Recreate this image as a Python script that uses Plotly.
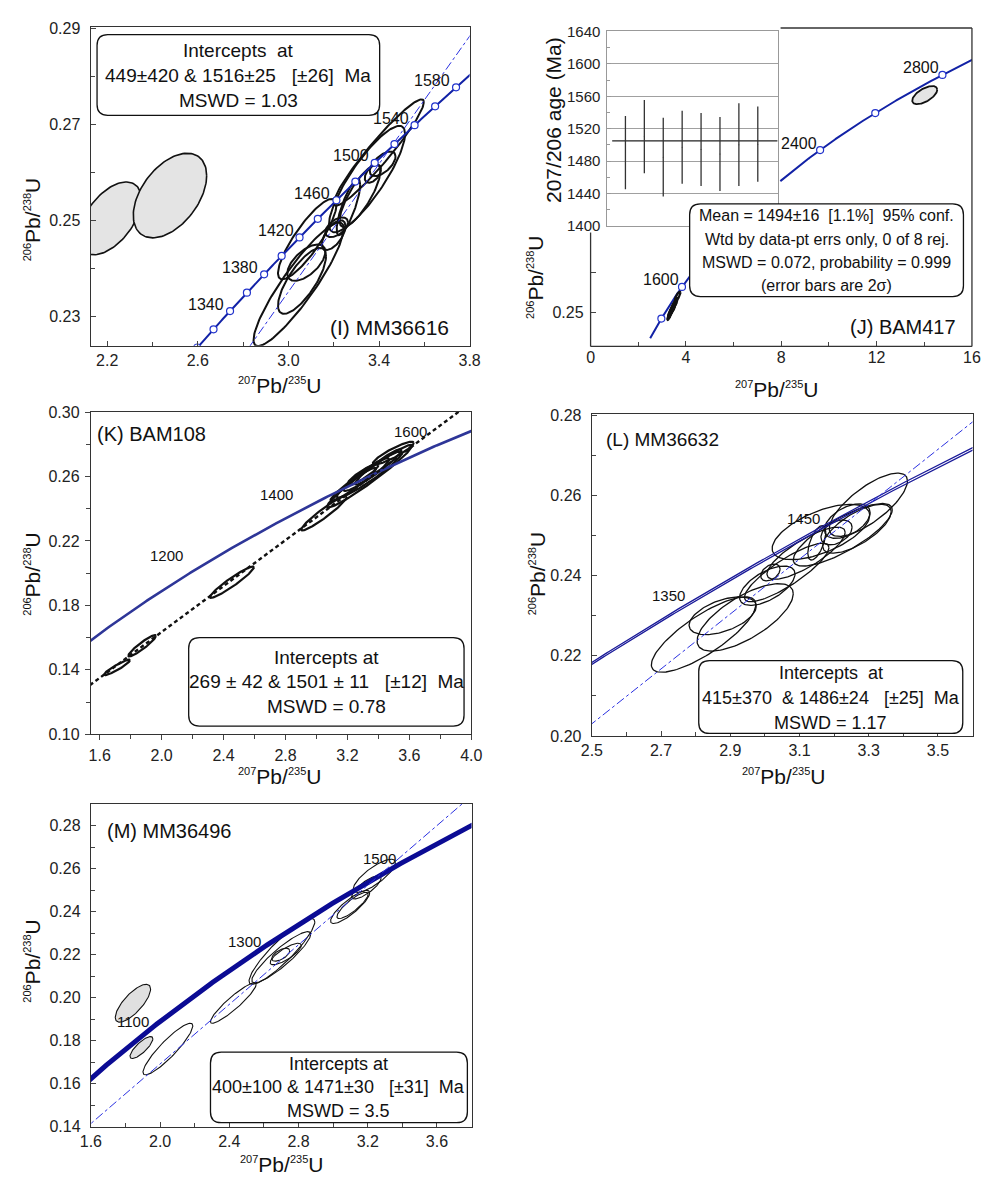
import numpy as np
import plotly.graph_objects as go

W, H = 994, 1178
FONT = "Liberation Sans, Arial, sans-serif"
L235 = 9.8485e-4   # per Ma
L238 = 1.55125e-4  # per Ma

# ---------------- data ----------------
# Panel I  (MM36616)
I_intercepts = [449, 1516]
I_marker_ages = [1300, 1320, 1340, 1360, 1380, 1400, 1420, 1440, 1460, 1480,
                 1500, 1520, 1540, 1560, 1580]
I_label_ages = [1340, 1380, 1420, 1460, 1500, 1540, 1580]
I_cx = [3.399, 3.347, 3.373, 3.416, 3.265, 3.213, 3.083, 3.060, 3.045, 3.079, 3.200, 3.316]
I_cy = [0.26414, 0.2586, 0.25973, 0.26178, 0.25275, 0.24854, 0.24608, 0.23735, 0.23663, 0.24115, 0.2469, 0.2551]
I_sx = [0.199, 0.168, 0.036, 0.057, 0.052, 0.050, 0.129, 0.106, 0.199, 0.084, 0.052, 0.090]
I_sy = [0.0111, 0.0111, 0.0019, 0.00257, 0.00585, 0.00205, 0.0084, 0.00688, 0.0129, 0.0038, 0.0031, 0.0065]
I_rho = [0.95, 0.85, 0.5, 0.6, 0.8, 0.5, 0.85, 0.75, 0.9, 0.6, 0.6, 0.8]
I_gcx = [2.2125, 2.477]
I_gcy = [0.2504, 0.25516]
I_gsx = [0.138, 0.162]
I_gsy = [0.0076, 0.00883]
I_grho = [0.52, 0.47]

# Panel J  (BAM417)
J_marker_ages = [1400, 1600, 1800, 2000, 2200, 2400, 2600, 2800]
J_label_ages = [1600, 2400, 2800]
J_cx = [3.35, 3.45, 3.55, 3.40, 3.30, 3.50, 3.65]
J_cy = [0.2500, 0.2560, 0.2620, 0.2530, 0.2460, 0.2580, 0.2700]
J_sx = [0.10, 0.12, 0.10, 0.15, 0.08, 0.09, 0.12]
J_sy = [0.0070, 0.0080, 0.0060, 0.0090, 0.0050, 0.0060, 0.0060]
J_rho = [0.85, 0.85, 0.8, 0.9, 0.8, 0.8, 0.8]
J_gcx = [14.02]
J_gcy = [0.519]
J_gsx = [0.525]
J_gsy = [0.0112]
J_grho = [0.6]
# inset: 207/206 ages
J_spot = [1, 2, 3, 4, 5, 6, 7, 8]
J_age = [1490.6, 1510.3, 1485.0, 1497.3, 1494.5, 1489.0, 1500.4, 1501.0]
J_err = [45.2, 45.0, 48.5, 45.0, 45.0, 45.6, 50.9, 46.3]
J_mean_line = 1505

# Panel K  (BAM108)
K_intercepts = [269, 1501]
K_label_ages = [1200, 1400, 1600]
K_cx = [1.712, 1.874, 2.454, 3.049, 3.496, 3.343, 3.342, 3.322, 3.30, 3.40, 3.238]
K_cy = [0.1415, 0.1549, 0.1944, 0.2372, 0.2745, 0.2602, 0.2612, 0.2612, 0.2612, 0.2660, 0.2551]
K_sx = [0.084, 0.089, 0.142, 0.147, 0.132, 0.274, 0.21, 0.147, 0.10, 0.15, 0.147]
K_sy = [0.0048, 0.0066, 0.0097, 0.0107, 0.0071, 0.0194, 0.0143, 0.0102, 0.0065, 0.011, 0.0102]
K_rho = [0.93, 0.93, 0.95, 0.95, 0.9, 0.97, 0.95, 0.93, 0.9, 0.95, 0.95]

# Panel L  (MM36632)
L_intercepts = [415, 1486]
L_label_ages = [1350, 1450]
L_cx = [2.823, 2.878, 2.943, 3.007, 3.016, 3.063, 3.162, 3.119, 3.150, 3.207, 3.266, 3.299, 3.238, 3.225]
L_cy = [0.2253, 0.2300, 0.2296, 0.2375, 0.2408, 0.2408, 0.2509, 0.2456, 0.2482, 0.2508, 0.2517, 0.2577, 0.2536, 0.2502]
L_sx = [0.151, 0.097, 0.139, 0.080, 0.028, 0.122, 0.141, 0.113, 0.026, 0.045, 0.099, 0.113, 0.066, 0.143]
L_sy = [0.0094, 0.0047, 0.0084, 0.0049, 0.0021, 0.0073, 0.0069, 0.0065, 0.0043, 0.0031, 0.0061, 0.0079, 0.0043, 0.0078]
L_rho = [0.8, 0.5, 0.7, 0.6, 0.4, 0.85, 0.6, 0.8, 0.6, 0.4, 0.7, 0.75, 0.5, 0.8]

# Panel M  (MM36496)
M_intercepts = [400, 1471]
M_label_ages = [1100, 1300, 1500]
M_cx = [2.045, 2.423, 2.704, 2.70, 2.726, 2.697, 3.098, 3.112, 3.192, 3.238]
M_cy = [0.1761, 0.1975, 0.2215, 0.2188, 0.2203, 0.2200, 0.2422, 0.2429, 0.2513, 0.2567]
M_sx = [0.144, 0.132, 0.19, 0.17, 0.09, 0.052, 0.113, 0.09, 0.085, 0.122]
M_sy = [0.0120, 0.0094, 0.0153, 0.0119, 0.005, 0.003, 0.0077, 0.0061, 0.0054, 0.0077]
M_rho = [0.9, 0.92, 0.9, 0.9, 0.8, 0.6, 0.85, 0.85, 0.8, 0.8]
M_gcx = [1.843, 1.892]
M_gcy = [0.1974, 0.1768]
M_gsx = [0.102, 0.066]
M_gsy = [0.0088, 0.0051]
M_grho = [0.75, 0.8]


# ---------------- helpers ----------------
def conc(age, k=1.0):
    a = np.asarray(age, float)
    return np.exp(L235 * k * a) - 1, np.exp(L238 * a) - 1


def ellipses(cx, cy, sx, sy, rho, n=120):
    t = np.linspace(0, 2 * np.pi, n)
    xs, ys = [], []
    for a, b, c, d, r in zip(cx, cy, sx, sy, rho):
        xs += list(a + c * np.cos(t)) + [None]
        ys += list(b + d * (r * np.cos(t) + np.sqrt(1 - r * r) * np.sin(t))) + [None]
    return xs, ys


def discordia(t1, t2, xr):
    x1, y1 = conc(t1)
    x2, y2 = conc(t2)
    s = (y2 - y1) / (x2 - x1)
    xs = np.array(xr, float)
    return xs, y1 + s * (xs - x1)


def dom_x(a, b):
    return [a / W, b / W]


def dom_y(top, bottom):
    return [1 - bottom / H, 1 - top / H]


fig = go.Figure()


def add_ell(cx, cy, sx, sy, rho, ax, width, fill=None):
    xs, ys = ellipses(cx, cy, sx, sy, rho)
    if fill:
        for i in range(len(cx)):
            x1, y1 = ellipses([cx[i]], [cy[i]], [sx[i]], [sy[i]], [rho[i]])
            fig.add_trace(go.Scatter(x=x1[:-1], y=y1[:-1], mode="lines", fill="toself",
                                     fillcolor=fill, line=dict(color="#111", width=width),
                                     xaxis="x" + ax, yaxis="y" + ax, hoverinfo="skip"))
    else:
        fig.add_trace(go.Scatter(x=xs, y=ys, mode="lines", line=dict(color="#111", width=width),
                                 xaxis="x" + ax, yaxis="y" + ax, hoverinfo="skip"))


def add_line(x, y, ax, color, width, dash="solid"):
    fig.add_trace(go.Scatter(x=list(x), y=list(y), mode="lines",
                             line=dict(color=color, width=width, dash=dash),
                             xaxis="x" + ax, yaxis="y" + ax, hoverinfo="skip"))


annots = []


def conc_labels(ages, ax, xs, ys, size=15):
    for a in ages:
        x, y = conc(a)
        annots.append(dict(x=float(x), y=float(y), xref="x" + ax, yref="y" + ax, text=str(a),
                           showarrow=False, xanchor="right", yanchor="middle",
                           xshift=xs, yshift=ys, font=dict(size=size, color="#111", family=FONT)))


def ptxt(x, y, text, size, angle=0, anchor="center"):
    annots.append(dict(x=x / W, y=1 - y / H, xref="paper", yref="paper", text=text,
                       showarrow=False, xanchor=anchor, yanchor="middle", textangle=angle,
                       font=dict(size=size, color="#111", family=FONT)))


NB = "\u00a0"
SUP = "<sup><span style='font-size:11px'>{}</span></sup>"
YT = SUP.format("206") + "Pb/" + SUP.format("238") + "U"
XT = SUP.format("207") + "Pb/" + SUP.format("235") + "U"

BLUE = "#1222a6"
DBLUE = "#2a30e0"

# ---------------- Panel I ----------------
add_ell(I_gcx, I_gcy, I_gsx, I_gsy, I_grho, "", 1.6, fill="#e4e4e4")
add_ell(I_cx, I_cy, I_sx, I_sy, I_rho, "", 2.0)
ca = np.linspace(1280, 1620, 200)
cx_, cy_ = conc(ca)
add_line(cx_, cy_, "", BLUE, 2.0)
dx, dy = discordia(I_intercepts[0], I_intercepts[1], [2.5, 3.9])
add_line(dx, dy, "", DBLUE, 1.0, "dashdot")
mx, my = conc(I_marker_ages)
fig.add_trace(go.Scatter(x=mx, y=my, mode="markers", xaxis="x", yaxis="y",
                         marker=dict(size=7, color="white", line=dict(color="#2233cc", width=1.2)),
                         hoverinfo="skip"))
conc_labels(I_label_ages, "", -4, 7, 16)

# ---------------- Panel J ----------------
JXD = (592.7, 982.7)
JYD = (19.3, 342.7)
JXR = [0, 16]
JYR = [0.2081, 0.602]


def jdata(px, py):
    x = JXR[0] + (px - JXD[0]) / (JXD[1] - JXD[0]) * (JXR[1] - JXR[0])
    y = JYR[1] - (py - JYD[0]) / (JYD[1] - JYD[0]) * (JYR[1] - JYR[0])
    return x, y


mask_x, mask_y = jdata(786, 226)
ja = np.linspace(1272, 2950, 400)
jx, jy = conc(ja)
hide = (jx < mask_x) & (jy > mask_y)
jx = np.where(hide, np.nan, jx)
jy = np.where(hide, np.nan, jy)
add_line(jx, jy, "2", BLUE, 2.0)
add_ell(J_gcx, J_gcy, J_gsx, J_gsy, J_grho, "2", 1.8, fill="#e4e4e4")
add_ell(J_cx, J_cy, J_sx, J_sy, J_rho, "2", 2.2)
jmx, jmy = conc(J_marker_ages)
jh = (jmx < mask_x) & (jmy > mask_y)
fig.add_trace(go.Scatter(x=jmx[~jh], y=jmy[~jh], mode="markers", xaxis="x2", yaxis="y2",
                         marker=dict(size=7, color="white", line=dict(color="#2233cc", width=1.2)),
                         hoverinfo="skip"))
conc_labels(J_label_ages, "2", -1, 7, 16)

# inset
fig.add_trace(go.Scatter(x=[0.3, 9.05], y=[J_mean_line, J_mean_line], mode="lines",
                         line=dict(color="#222", width=1.2), xaxis="x3", yaxis="y3", hoverinfo="skip"))
fig.add_trace(go.Scatter(x=J_spot, y=J_age, mode="markers", marker=dict(size=1, color="#333"),
                         error_y=dict(type="data", array=J_err, width=0, thickness=1.3, color="#333"),
                         xaxis="x3", yaxis="y3", hoverinfo="skip"))

# ---------------- Panel K ----------------
add_ell(K_cx, K_cy, K_sx, K_sy, K_rho, "4", 2.2)
ka = np.linspace(900, 1750, 200)
kx, ky = conc(ka)
add_line(kx, ky, "4", "#2e3698", 2.6)
dx, dy = discordia(K_intercepts[0], K_intercepts[1], [1.5, 4.1])
add_line(dx, dy, "4", "#111", 2.4, "4px,3px")
conc_labels(K_label_ages, "4", -17, 10, 15)

# ---------------- Panel L ----------------
add_ell(L_cx, L_cy, L_sx, L_sy, L_rho, "5", 1.3)
la = np.linspace(1230, 1600, 200)
for k in (0.999, 1.001):
    lx, ly = conc(la, k)
    add_line(lx, ly, "5", "#1a1a99", 1.3)
dx, dy = discordia(L_intercepts[0], L_intercepts[1], [2.45, 3.65])
add_line(dx, dy, "5", DBLUE, 1.0, "dashdot")
conc_labels(L_label_ages, "5", -2, 8, 15)

# ---------------- Panel M ----------------
add_ell(M_gcx, M_gcy, M_gsx, M_gsy, M_grho, "6", 1.1, fill="#e0e0e0")
add_ell(M_cx, M_cy, M_sx, M_sy, M_rho, "6", 1.1)
ma = np.linspace(900, 1700, 200)
mxx, myy = conc(ma)
add_line(mxx, myy, "6", "#0b0b94", 5)
dx, dy = discordia(M_intercepts[0], M_intercepts[1], [1.55, 3.9])
add_line(dx, dy, "6", DBLUE, 1.0, "dashdot")
conc_labels(M_label_ages, "6", -1, 6, 15)

# ---------------- axes ----------------
TF = dict(size=16, color="#222", family=FONT)


def axis(dom, rng, vals, text, minor, anchor, ticks="inside", line=True, standoff=4):
    return dict(domain=dom, range=rng, tickvals=vals, ticktext=text, anchor=anchor,
                showline=line, mirror=line, linecolor="#333", linewidth=1.3,
                ticks=ticks, ticklen=5, tickcolor="#444", tickwidth=1,
                minor=dict(tickvals=minor, ticks=ticks, ticklen=4, tickcolor="#444", showgrid=False),
                tickfont=TF, showgrid=False, zeroline=False, ticklabelstandoff=standoff)


def fmt(vals, d):
    return [f"{v:.{d}f}" for v in vals]


lay = {}
# I
xv = [2.2, 2.6, 3.0, 3.4, 3.8]
yv = [0.23, 0.25, 0.27, 0.29]
lay["xaxis"] = axis(dom_x(81.5, 469), [2.127, 3.8], xv, fmt(xv, 1), [2.4, 2.8, 3.2, 3.6], "y", standoff=0)
lay["yaxis"] = axis(dom_y(18, 342), [0.2238, 0.2904], yv, fmt(yv, 2), [0.24, 0.26, 0.28], "x", standoff=6)
# J main
lay["xaxis2"] = axis(dom_x(*JXD), JXR, [0, 4, 8, 12, 16], ["0", "4", "8", "12", "16"], [2, 6, 10, 14], "y2",
                     line=False, standoff=0)
lay["yaxis2"] = axis(dom_y(*JYD), JYR, [0.25, 0.30], ["0.25", ""], [], "x2", line=False, standoff=6)
# J inset
iv = [1400, 1440, 1480, 1520, 1560, 1600, 1640]
lay["xaxis3"] = dict(domain=dom_x(609, 784), range=[0, 9.05], anchor="y3", showline=True, mirror=True,
                     linecolor="#999", linewidth=1.2, showticklabels=False, ticks="", showgrid=False, zeroline=False)
lay["yaxis3"] = dict(domain=dom_y(22.7, 220.5), range=[1400, 1640], anchor="x3", tickvals=iv,
                     ticktext=[str(v) for v in iv], showline=True, mirror=True, linecolor="#999", linewidth=1.2,
                     ticks="inside", ticklen=4, tickcolor="#999",
                     minor=dict(tickvals=[1420, 1460, 1500, 1540, 1580, 1620], ticks="inside", ticklen=3, tickcolor="#999"),
                     showgrid=True, gridcolor="#a0a0a0", gridwidth=1, zeroline=False,
                     tickfont=dict(size=15, color="#222", family=FONT), ticklabelstandoff=2)
# K
xv = [1.6, 2.0, 2.4, 2.8, 3.2, 3.6, 4.0]
yv = [0.10, 0.14, 0.18, 0.22, 0.26, 0.30]
lay["xaxis4"] = axis(dom_x(81.7, 470.7), [1.543, 4.0], xv, fmt(xv, 1), [1.8, 2.2, 2.6, 3.0, 3.4, 3.8], "y4",
                     ticks="outside", standoff=1)
lay["yaxis4"] = axis(dom_y(409.3, 736.5), [0.10, 0.30], yv, fmt(yv, 2), [0.12, 0.16, 0.20, 0.24, 0.28], "x4",
                     ticks="outside", standoff=2)
# L
xv = [2.5, 2.7, 2.9, 3.1, 3.3, 3.5]
yv = [0.20, 0.22, 0.24, 0.26, 0.28]
lay["xaxis5"] = axis(dom_x(594, 983.3), [2.5, 3.6], xv, fmt(xv, 1), [2.6, 2.8, 3.0, 3.2, 3.4], "y5", standoff=0)
lay["yaxis5"] = axis(dom_y(411, 738.3), [0.20, 0.2804], yv, fmt(yv, 2), [0.21, 0.23, 0.25, 0.27], "x5", standoff=6)
# M
xv = [1.6, 2.0, 2.4, 2.8, 3.2, 3.6]
yv = [0.14, 0.16, 0.18, 0.20, 0.22, 0.24, 0.26, 0.28]
lay["xaxis6"] = axis(dom_x(81.7, 471), [1.6, 3.8], xv, fmt(xv, 1), [1.8, 2.2, 2.6, 3.0, 3.4], "y6", standoff=0)
lay["yaxis6"] = axis(dom_y(807.3, 1135), [0.14, 0.2901], yv, fmt(yv, 2),
                     [0.15, 0.17, 0.19, 0.21, 0.23, 0.25, 0.27], "x6", standoff=6)

# ---------------- shapes ----------------
shapes = []


def P(x, y):
    return f"{x / W:.5f},{1 - y / H:.5f}"


def rbox(x0, y0, x1, y1, r=11):
    path = (f"M {P(x0 + r, y0)} L {P(x1 - r, y0)} Q {P(x1, y0)} {P(x1, y0 + r)} "
            f"L {P(x1, y1 - r)} Q {P(x1, y1)} {P(x1 - r, y1)} L {P(x0 + r, y1)} "
            f"Q {P(x0, y1)} {P(x0, y1 - r)} L {P(x0, y0 + r)} Q {P(x0, y0)} {P(x0 + r, y0)} Z")
    shapes.append(dict(type="path", xref="paper", yref="paper", path=path, fillcolor="white",
                       line=dict(color="#111", width=1.3), layer="above"))


def pline(x0, y0, x1, y1, color="#333", w=1.3):
    shapes.append(dict(type="line", xref="paper", yref="paper", x0=x0 / W, y0=1 - y0 / H,
                       x1=x1 / W, y1=1 - y1 / H, line=dict(color=color, width=w), layer="above"))


# J main frame (partly hidden behind inset)
pline(JXD[0], JYD[1], JXD[1], JYD[1])
pline(JXD[1], JYD[0], JXD[1], JYD[1])
pline(787, JYD[0], JXD[1], JYD[0])
pline(JXD[0], 227, JXD[0], JYD[1])


def sp(s):
    return s.replace("  ", NB + NB).replace(NB + " ", NB + NB)


def box(x0, y0, x1, y1, lines, ys, size):
    rbox(x0, y0, x1, y1)
    for t, y in zip(lines, ys):
        ptxt((x0 + x1) / 2, y, sp(t), size)


box(88, 26, 377, 108, ["Intercepts  at", "449±420 & 1516±25   [±26]  Ma", "MSWD = 1.03"], [42, 68, 93], 19)
box(694, 198, 974, 292, ["Mean = 1494±16  [1.1%]  95% conf.", "Wtd by data-pt errs only, 0 of 8 rej.",
                         "MSWD = 0.072, probability = 0.999", "(error bars are 2σ)"],
    [209.5, 234, 257, 281], 16)
box(181.7, 638.3, 463.3, 728.3, ["Intercepts at", "269 ± 42 & 1501 ± 11   [±12]  Ma", "MSWD = 0.78"],
    [658.3, 683.3, 708.3], 19)
box(703.3, 661.7, 973.3, 735.7, ["Intercepts  at", "415±370  & 1486±24   [±25]  Ma", "MSWD = 1.17"],
    [674.3, 700, 725], 18)
box(204, 1059.3, 466.7, 1131, ["Intercepts at", "400±100 & 1471±30   [±31]  Ma", "MSWD = 3.5"],
    [1071.7, 1095, 1119.3], 18)

# panel labels
ptxt(387.5, 323, "(I) MM36616", 21)
ptxt(912.5, 322.7, "(J) BAM417", 20)
ptxt(144, 431.7, "(K) BAM108", 20)
ptxt(666, 437.3, "(L) MM36632", 19)
ptxt(161.3, 835, "(M) MM36496", 20)

# axis titles
ptxt(22, 214, YT, 21, -90)
ptxt(275, 382, XT, 21)
ptxt(537, 273, YT, 21, -90)
ptxt(783, 386, XT, 21)
ptxt(555, 113, "207/206 age (Ma)", 21, -90)
ptxt(22, 574, YT, 21, -90)
ptxt(275, 779, XT, 21)
ptxt(538, 574, YT, 21, -90)
ptxt(790, 779, XT, 21)
ptxt(22, 967, YT, 21, -90)
ptxt(277, 1173, XT, 21)

fig.update_layout(width=W, height=H, margin=dict(l=0, r=0, t=0, b=0),
                  paper_bgcolor="white", plot_bgcolor="rgba(0,0,0,0)", showlegend=False,
                  font=dict(family=FONT, color="#111"), annotations=annots, shapes=shapes, **lay)

fig.write_html("out.html")
